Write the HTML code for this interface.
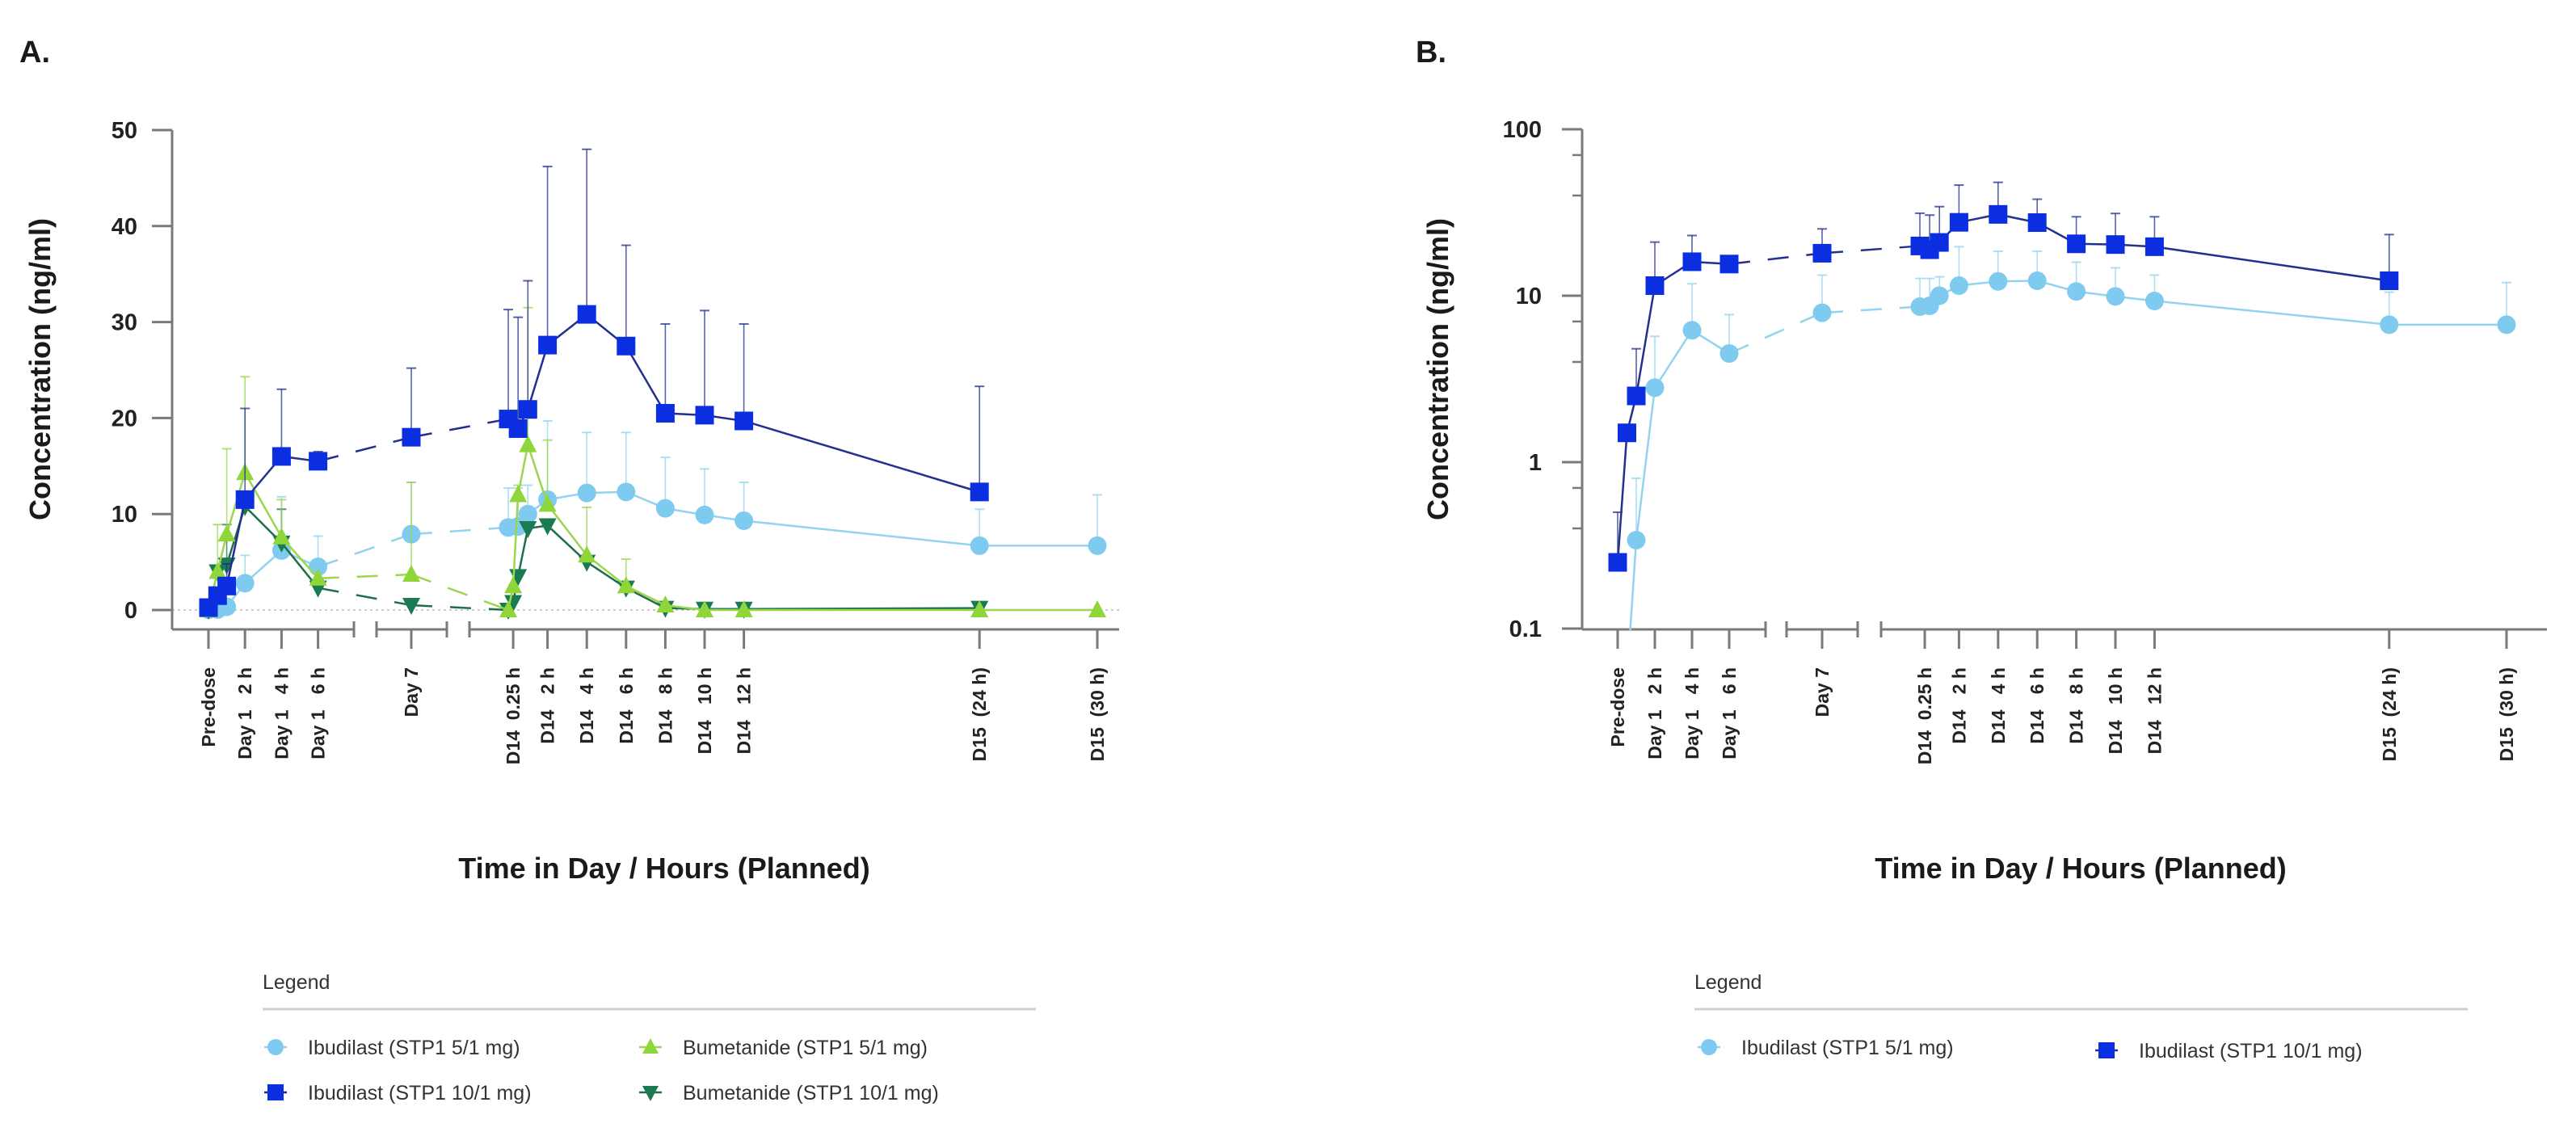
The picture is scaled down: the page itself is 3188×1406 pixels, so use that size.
<!DOCTYPE html>
<html><head><meta charset="utf-8"><style>
html,body{margin:0;padding:0;background:#fff;}
svg{display:block;font-family:"Liberation Sans",Arial,sans-serif;}
.tk{font-weight:bold;font-size:29px;fill:#222;}
.xl{font-weight:bold;font-size:23px;fill:#222;white-space:pre;}
.ttl{font-weight:bold;font-size:36px;fill:#1a1a1a;}
.lg{font-size:25px;fill:#333;}
</style></head><body>
<svg id="chart" width="3188" height="1406" viewBox="0 0 3188 1406">
<defs>
<clipPath id="clipB"><rect x="1958" y="100" width="1200" height="680"/></clipPath>
</defs>
<g id="root"></g>
</svg>
<script>
// ---------- data ----------
const ibuSegs = [0,0,0,0,0,0,1,2,2,2,2,2,2,2,2,2,2,2];
const ibuHours = [0,0.5,1,2,4,6,0,0,0.5,1,2,4,6,8,10,12,24,30];
const ibu5Mean = [0.03,0.05,0.34,2.8,6.2,4.5,7.9,8.6,8.7,10,11.5,12.2,12.3,10.6,9.9,9.3,6.7,6.7];
const ibu5Err  = [null,null,0.8,5.7,11.8,7.7,13.3,12.7,12.7,13,19.7,18.5,18.5,15.9,14.7,13.3,10.5,12];
const ibu10Mean = [0.25,1.5,2.5,11.5,16,15.5,18,19.9,18.9,20.9,27.6,30.8,27.5,20.5,20.3,19.7,12.3,null];
const ibu10Err  = [0.5,null,4.8,21,23,16.5,25.2,31.3,30.5,34.3,46.2,48,38,29.8,31.2,29.8,23.3,null];
const bumSegs = [0,0,0,0,0,0,1,2,2,2,2,2,2,2,2,2,2,2,2];
const bumHours = [0,0.5,1,2,4,6,0,0,0.25,0.5,1,2,4,6,8,10,12,24,30];
const bum5Mean = [0,4,7.9,14.3,7.6,3.3,3.7,0,2.5,12,17.2,11,5.7,2.5,0.5,0,0,0,0];
const bum5Err  = [null,8.9,16.8,24.3,11.5,null,13.3,null,null,13,31.5,17.7,10.7,5.3,null,null,null,null,null];
const bum10Mean = [0,4,4.7,10.8,7,2.3,0.5,0,0.8,3.5,8.5,8.8,5,2.3,0.2,0.1,0.1,0.2,null];
const bum10Err  = [null,null,8.9,null,10.5,null,null,null,null,null,null,null,null,null,null,null,null,null,null];
const yTicksA = [0,10,20,30,40,50];
const yTicksB = [0.1,1,10,100];
const yMinorB = [0.4,0.7,4,7,40,70];
const xTickSegs = [0,0,0,0,1,2,2,2,2,2,2,2,2,2];
const xTickHours = [0,2,4,6,0,0.25,2,4,6,8,10,12,24,30];
const xTickLabels = ["Pre-dose","Day 1   2 h","Day 1   4 h","Day 1   6 h","Day 7","D14  0.25 h","D14   2 h","D14   4 h","D14   6 h","D14   8 h","D14   10 h","D14   12 h","D15  (24 h)","D15  (30 h)"];

const C = {lb:'#7fcbef', lbL:'#93d3ef', db:'#0b2fe0', dbL:'#22308f', lg:'#8fd63a', lgL:'#9bd650', dg:'#1a7a50', dgL:'#1f6e4a', ax:'#7a7a7a'};
const NS='http://www.w3.org/2000/svg';
const root=document.getElementById('root');
function el(tag,attrs,parent){const e=document.createElementNS(NS,tag);for(const k in attrs)e.setAttribute(k,attrs[k]);(parent||root).appendChild(e);return e;}

// ---------- axis functions ----------
function makeX(p){return (seg,h)=> seg===0? p.d1+p.k1*h : seg===1? p.d7 : p.d14+p.k14*h;}
const PA={yx:213, top:161, axY:779, d1:258, k1:22.6, d7:509, d14:629, k14:24.3, segs:[[213,438],[466,553],[581,1385]]};
const PB={yx:1958, top:160, axY:779, d1:2002, k1:23, d7:2255, d14:2376, k14:24.2, segs:[[1958,2185],[2211,2299],[2328,3152]]};
const xA=makeX(PA), xB=makeX(PB);
const yA=v=>755-v*11.88;
const yB=v=>572-Math.log10(v)*206;

function drawAxes(P,xf,g,name){
  const ag=el('g',{},g);
  
  
  P.segs.forEach(s=>{
    el('line',{x1:s[0],y1:P.axY,x2:s[1],y2:P.axY,stroke:C.ax,'stroke-width':3},ag);
    if(s[0]!==P.yx) el('line',{x1:s[0],y1:P.axY-10,x2:s[0],y2:P.axY+10,stroke:C.ax,'stroke-width':3},ag);
    if(s[1]!==P.segs[2][1]) el('line',{x1:s[1],y1:P.axY-10,x2:s[1],y2:P.axY+10,stroke:C.ax,'stroke-width':3},ag);
  });
  xTickLabels.forEach((lab,i)=>{
    const x=xf(xTickSegs[i],xTickHours[i]);
    el('line',{x1:x,y1:P.axY,x2:x,y2:P.axY+24,stroke:C.ax,'stroke-width':3},ag);
    const t=el('text',{class:'xl',transform:`translate(${x+8},826) rotate(-90)`,'text-anchor':'end'},ag);
    
    
    t.textContent=lab;
  });
  el('line',{x1:P.yx,y1:P.top,x2:P.yx,y2:P.axY,stroke:C.ax,'stroke-width':3},g);
}

function series(g,xf,yf,segs,hours,mean,err,col,lineCol,marker,name,valid,clip){
  const sg=el('g',clip?{'clip-path':clip}:{},g);
  
  
  const pts=[];
  mean.forEach((v,i)=>{ if(v!==null && valid(v)) pts.push({x:xf(segs[i],hours[i]),y:yf(v),s:segs[i],e:err[i]}); });
  // error bars
  pts.forEach(p=>{ if(p.e!==null&&p.e!==undefined){const ye=yf(p.e);
    el('line',{x1:p.x,y1:p.y,x2:p.x,y2:ye,stroke:lineCol,'stroke-width':1.6,opacity:0.75},sg);
    el('line',{x1:p.x-6,y1:ye,x2:p.x+6,y2:ye,stroke:lineCol,'stroke-width':2,opacity:0.75},sg);}});
  for(let i=1;i<pts.length;i++){const a=pts[i-1],b=pts[i];
    const o={x1:a.x,y1:a.y,x2:b.x,y2:b.y,stroke:lineCol,'stroke-width':2.5};
    if(a.s!==b.s)o['stroke-dasharray']='26 22';
    el('line',o,sg);}
  pts.forEach(p=>{
    let m;
    if(marker==='circle') m=el('circle',{cx:p.x,cy:p.y,r:11.5,fill:col},sg);
    else if(marker==='square') m=el('rect',{x:p.x-11.5,y:p.y-11.5,width:23,height:23,fill:col},sg);
    else if(marker==='up') m=el('polygon',{points:`${p.x},${p.y-12} ${p.x-11},${p.y+9} ${p.x+11},${p.y+9}`,fill:col},sg);
    else m=el('polygon',{points:`${p.x},${p.y+12} ${p.x-11},${p.y-9} ${p.x+11},${p.y-9}`,fill:col},sg);
    
    
  });
}

function text(x,y,str,cls,name,extra){const t=el('text',Object.assign({x:x,y:y,class:cls},extra||{}));t.textContent=str;return t;}

// ---------- Panel A ----------
const gA=el('g',{});


text(24,77,'A.','ttl','panel-a-label',{style:'font-size:38px'});
el('line',{x1:213,y1:yA(0),x2:1385,y2:yA(0),stroke:'#bbb','stroke-width':1.5,'stroke-dasharray':'3 4'},gA);
drawAxes(PA,xA,gA,'panel-a');
yTicksA.forEach(v=>{const y=yA(v);el('line',{x1:188,y1:y,x2:213,y2:y,stroke:C.ax,'stroke-width':3},gA);
  const t=text(170,y+10,String(v),'tk','y-tick-label',{'text-anchor':'end'});});
text(0,0,'Concentration (ng/ml)','ttl','panel-a-y-axis-title',{transform:'translate(62,457) rotate(-90)','text-anchor':'middle'});
text(822,1087,'Time in Day / Hours (Planned)','ttl','panel-a-x-axis-title',{'text-anchor':'middle'});
series(gA,xA,yA,ibuSegs,ibuHours,ibu5Mean,ibu5Err,C.lb,C.lbL,'circle','ibudilast-5-series',v=>true);
series(gA,xA,yA,bumSegs,bumHours,bum10Mean,bum10Err,C.dg,C.dgL,'down','bumetanide-10-series',v=>true);
series(gA,xA,yA,bumSegs,bumHours,bum5Mean,bum5Err,C.lg,C.lgL,'up','bumetanide-5-series',v=>true);
series(gA,xA,yA,ibuSegs,ibuHours,ibu10Mean,ibu10Err,C.db,C.dbL,'square','ibudilast-10-series',v=>true);

// ---------- Panel B ----------
const gB=el('g',{});


text(1752,77,'B.','ttl','panel-b-label',{style:'font-size:38px'});
drawAxes(PB,xB,gB,'panel-b');
yTicksB.forEach(v=>{const y=yB(v);el('line',{x1:1933,y1:y,x2:1958,y2:y,stroke:C.ax,'stroke-width':3},gB);
  text(1908,y+10,String(v),'tk','y-tick-label',{'text-anchor':'end'});});
yMinorB.forEach(v=>{const y=yB(v);el('line',{x1:1946,y1:y,x2:1958,y2:y,stroke:C.ax,'stroke-width':2.5},gB);});
text(0,0,'Concentration (ng/ml)','ttl','panel-b-y-axis-title',{transform:'translate(1792,457) rotate(-90)','text-anchor':'middle'});
text(2575,1087,'Time in Day / Hours (Planned)','ttl','panel-b-x-axis-title',{'text-anchor':'middle'});
series(gB,xB,yB,ibuSegs,ibuHours,ibu5Mean,ibu5Err,C.lb,C.lbL,'circle','ibudilast-5-log-series',v=>v>0,'url(#clipB)');
series(gB,xB,yB,ibuSegs,ibuHours,ibu10Mean,ibu10Err,C.db,C.dbL,'square','ibudilast-10-log-series',v=>v>0,'url(#clipB)');

// ---------- Legends ----------
function legendMarker(x,y,type,col,lc){
  el('line',{x1:x-14,y1:y,x2:x+14,y2:y,stroke:lc,'stroke-width':2.5});
  if(type==='circle') el('circle',{cx:x,cy:y,r:10,fill:col});
  else if(type==='square') el('rect',{x:x-10,y:y-10,width:20,height:20,fill:col});
  else if(type==='up') el('polygon',{points:`${x},${y-11} ${x-10},${y+8} ${x+10},${y+8}`,fill:col});
  else el('polygon',{points:`${x},${y+11} ${x-10},${y-8} ${x+10},${y-8}`,fill:col});
}
function legend(x0,x1,items,name){
  text(x0,1224,'Legend','lg',name+'-title');
  el('line',{x1:x0,y1:1249,x2:x1,y2:1249,stroke:'#cfcfcf','stroke-width':3});
  items.forEach(it=>{legendMarker(it.mx,it.y,it.t,it.c,it.lc);
    text(it.mx+40,it.y+9,it.label,'lg','legend-entry');});
}
legend(325,1282,[
 {mx:341,y:1296,t:'circle',c:C.lb,lc:C.lbL,label:'Ibudilast (STP1 5/1 mg)'},
 {mx:341,y:1352,t:'square',c:C.db,lc:C.dbL,label:'Ibudilast (STP1 10/1 mg)'},
 {mx:805,y:1296,t:'up',c:C.lg,lc:C.lgL,label:'Bumetanide (STP1 5/1 mg)'},
 {mx:805,y:1352,t:'down',c:C.dg,lc:C.dgL,label:'Bumetanide (STP1 10/1 mg)'}],'legend-a');
legend(2097,3054,[
 {mx:2115,y:1296,t:'circle',c:C.lb,lc:C.lbL,label:'Ibudilast (STP1 5/1 mg)'},
 {mx:2607,y:1300,t:'square',c:C.db,lc:C.dbL,label:'Ibudilast (STP1 10/1 mg)'}],'legend-b');
</script>
</body></html>
